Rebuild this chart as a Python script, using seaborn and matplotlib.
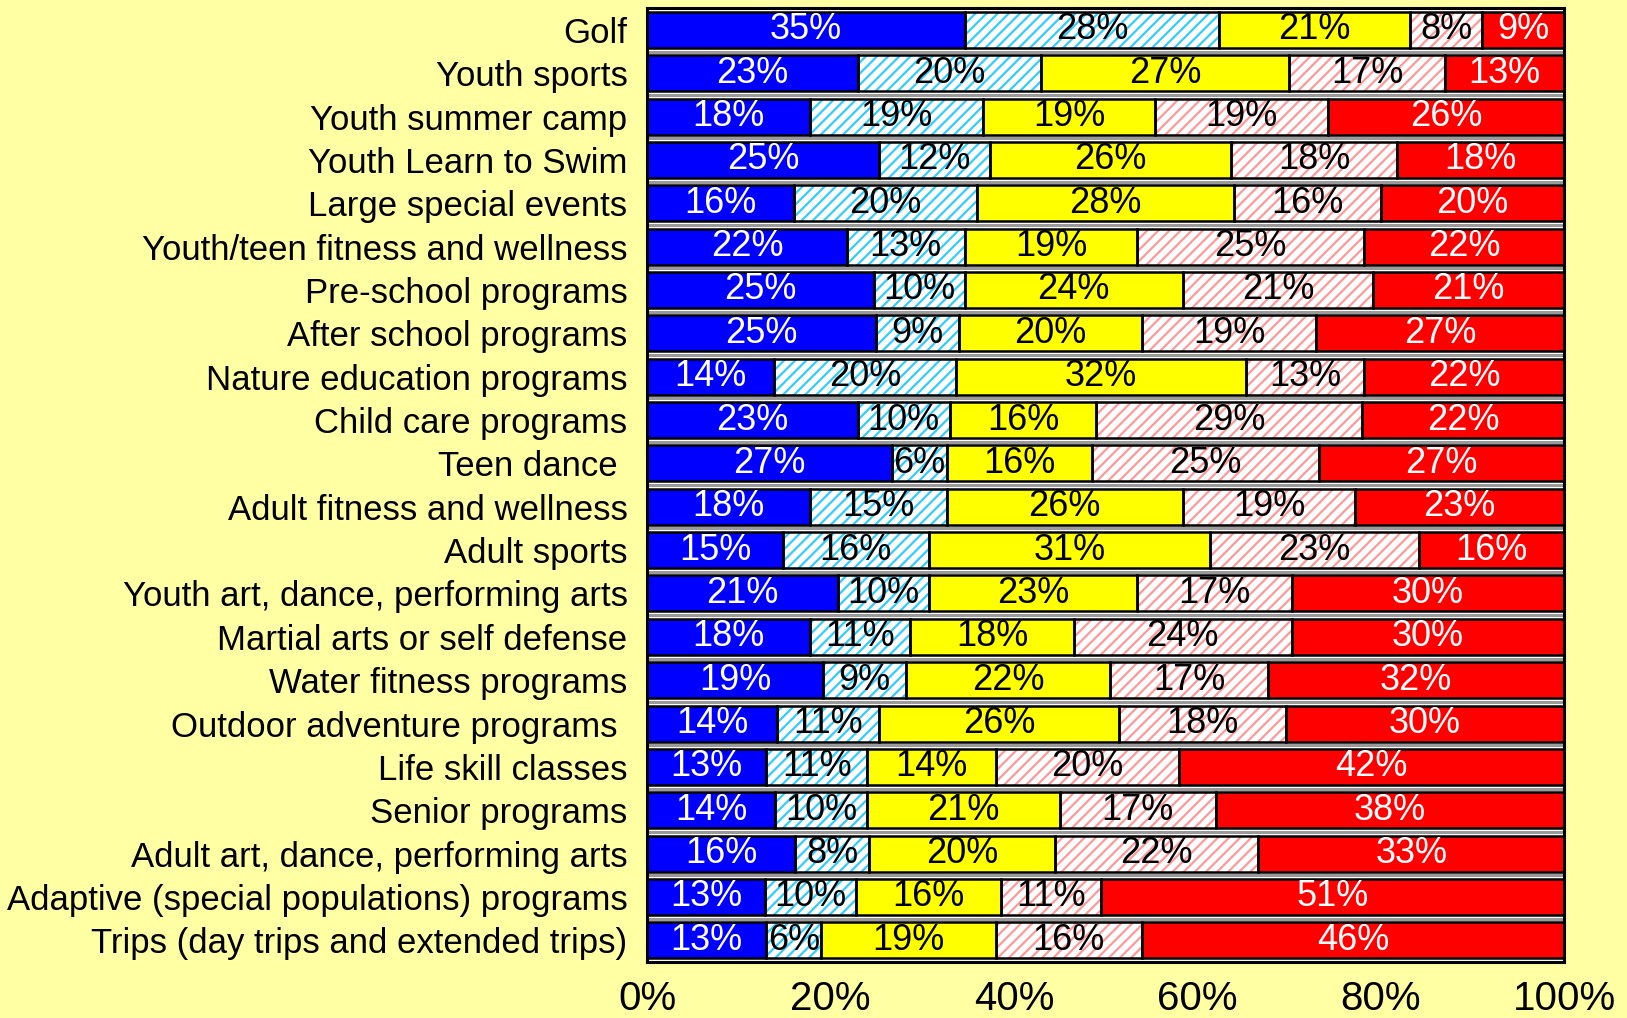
import numpy as np
import pandas as pd
import matplotlib
matplotlib.use('Agg')
import matplotlib.pyplot as plt
import seaborn as sns

# program names, top to bottom
programs = [
    'Golf', 'Youth sports', 'Youth summer camp', 'Youth Learn to Swim',
    'Large special events', 'Youth/teen fitness and wellness',
    'Pre-school programs', 'After school programs', 'Nature education programs',
    'Child care programs', 'Teen dance ', 'Adult fitness and wellness',
    'Adult sports', 'Youth art, dance, performing arts',
    'Martial arts or self defense', 'Water fitness programs',
    'Outdoor adventure programs ', 'Life skill classes', 'Senior programs',
    'Adult art, dance, performing arts', 'Adaptive (special populations) programs',
    'Trips (day trips and extended trips)',
]

# five response groups (left to right), in percent
seg1 = [35, 23, 18, 25, 16, 22, 25, 25, 14, 23, 27, 18, 15, 21, 18, 19, 14, 13, 14, 16, 13, 13]
seg2 = [28, 20, 19, 12, 20, 13, 10, 9, 20, 10, 6, 15, 16, 10, 11, 9, 11, 11, 10, 8, 10, 6]
seg3 = [21, 27, 19, 26, 28, 19, 24, 20, 32, 16, 16, 26, 31, 23, 18, 22, 26, 14, 21, 20, 16, 19]
seg4 = [8, 17, 19, 18, 16, 25, 21, 19, 13, 29, 25, 19, 23, 17, 24, 17, 18, 20, 17, 22, 11, 16]
seg5 = [9, 13, 26, 18, 20, 22, 21, 27, 22, 22, 27, 23, 16, 30, 30, 32, 30, 42, 38, 33, 51, 46]

seg_colors = ['#0000FF', '#FFFFFF', '#FFFF00', '#FFFFFF', '#FF0000']
hatch_colors = [None, '#33CCFF', None, '#FF9999', None]
text_colors = ['white', 'black', 'black', 'black', 'white']

sns.set_style('white')
plt.rcParams['font.family'] = ['Liberation Sans', 'DejaVu Sans']
plt.rcParams['text.color'] = 'black'
plt.rcParams['xtick.color'] = 'black'
plt.rcParams['ytick.color'] = 'black'
plt.rcParams['axes.labelcolor'] = 'black'
plt.rcParams['hatch.linewidth'] = 1.6

vals = np.array([seg1, seg2, seg3, seg4, seg5], dtype=float)
shares = vals / vals.sum(axis=0) * 100
cum = shares.cumsum(axis=0)
starts = cum - shares

fig = plt.figure(figsize=(16.27, 10.18), dpi=100, facecolor='#FFFFA3')
ax = fig.add_axes([0.3977, 0.055, 0.9613 - 0.3977, 0.992 - 0.055])
ax.set_facecolor('white')

bar_h = 0.83

# separator lines between rows
for i in range(len(programs) - 1):
    ax.axhline(i + 0.5, color='#9A9A9A', lw=2.2, zorder=0)

# stacked bars drawn as cumulative totals, widest first
for k in range(4, -1, -1):
    df = pd.DataFrame({'program': programs, 'total': cum[k]})
    if hatch_colors[k]:
        sns.barplot(data=df, x='total', y='program', order=programs, orient='h',
                    color='white', saturation=1, errorbar=None, width=bar_h,
                    hatch='///', edgecolor=hatch_colors[k], linewidth=0, ax=ax)
    else:
        sns.barplot(data=df, x='total', y='program', order=programs, orient='h',
                    color=seg_colors[k], saturation=1, errorbar=None, width=bar_h,
                    linewidth=0, ax=ax)

# black outlines for every segment
for k in range(5):
    ax.barh(np.arange(len(programs)), shares[k], left=starts[k], height=bar_h,
            fill=False, edgecolor='black', linewidth=1.8, zorder=3)

# value labels
for k in range(5):
    for i in range(len(programs)):
        ax.text(starts[k][i] + shares[k][i] / 2, i, f'{int(vals[k][i])}%',
                ha='center', va='center', color=text_colors[k], fontsize=26,
                family=['Liberation Sans Narrow', 'Liberation Sans', 'DejaVu Sans'],
                zorder=4)

ax.set_xlim(0, 100)
ax.set_ylim(len(programs) - 0.5, -0.5)
ax.set_xticks(range(0, 101, 20))
ax.set_xticklabels([f'{t}%' for t in range(0, 101, 20)], fontsize=29)
ax.tick_params(axis='x', length=0, pad=13, colors='black')
ax.tick_params(axis='y', length=0, pad=14, labelsize=25, colors='black')
ax.set_xlabel('')
ax.set_ylabel('')
for s in ax.spines.values():
    s.set_linewidth(2.2)
    s.set_color('black')

fig.savefig('out.png', dpi=100, facecolor=fig.get_facecolor())
